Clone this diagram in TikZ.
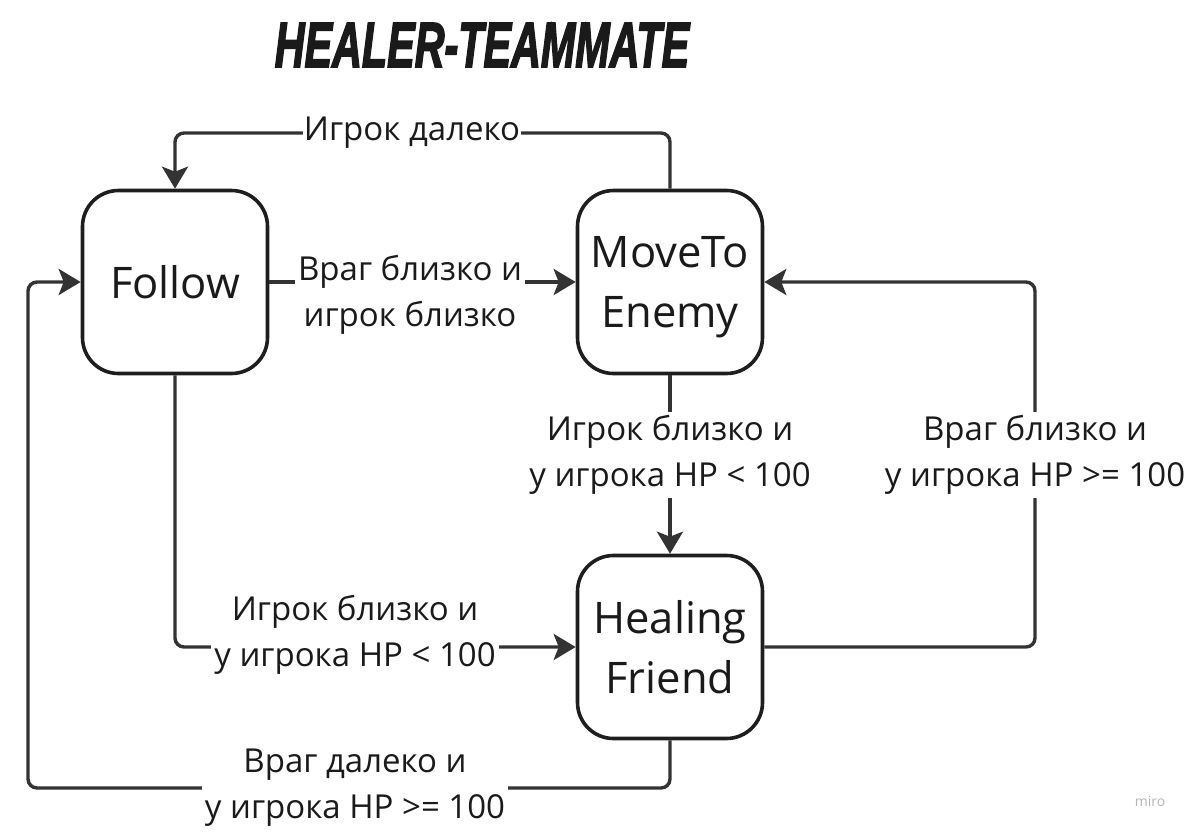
\documentclass[tikz,border=0pt]{standalone}
\usepackage{fontspec}
\setmainfont{Open Sans}
\newfontfamily\titlefont{Liberation Sans}[BoldItalicFeatures={FakeBold=3}]
\usetikzlibrary{arrows.meta}
\definecolor{conncol}{HTML}{333333}
\definecolor{boxcol}{HTML}{1E1E1E}
\definecolor{txtcol}{HTML}{1A1A1A}
\definecolor{logocol}{HTML}{B4B4B4}
\tikzset{
  statebox/.style={draw=boxcol, line width=3.6pt, rounded corners=36pt, fill=white,
    minimum width=185pt, minimum height=183pt, align=center, text=txtcol,
    font=\fontsize{43.5}{60}\selectfont, inner sep=0pt},
  conn/.style={draw=conncol, line width=3.4pt, rounded corners=9pt,
    -{Stealth[length=22pt,width=26pt,inset=5pt]}},
  lbl/.style={fill=white, text=txtcol, align=center, inner sep=3pt,
    font=\fontsize{33}{46}\selectfont},
}
\begin{document}
\begin{tikzpicture}[x=1pt,y=-1pt]
\useasboundingbox (0,0) rectangle (1195,836);
% title
\node[anchor=base, text=txtcol] (title) at (482,67)
  {\scalebox{0.70}[1.08]{\titlefont\bfseries\itshape\fontsize{59}{59}\selectfont HEALER-TEAMMATE}};
% states
\node[statebox] (follow) at (175,282) {Follow};
\node[statebox, text depth=0pt] (move) at (670,282) {MoveTo\\Enemy};
\node[statebox] (heal) at (670,647) {Healing\\Friend};
% label anchor points
\coordinate (p1) at (412,133);
\coordinate (p2) at (410,295);
\coordinate (p3) at (670,455);
\coordinate (p4) at (355,635);
\coordinate (p5) at (1035,455);
\coordinate (p6) at (355,788);
\coordinate (c7) at (28,788);
% connectors
\draw[conn] (move.north) |- (p1) -| (follow.north);
\draw[conn] (follow.east) -- (move.west);
\draw[conn] (move.south) -- (heal.north);
\draw[conn] (follow.south) |- (heal.west);
\draw[conn] (heal.east) -| (p5) |- (move.east);
\draw[conn] (heal.south) |- (p6) -- (c7) |- (follow.west);
% labels
\node[lbl, inner sep=1pt] (l1) at (p1) {Игрок далеко};
\node[lbl] (l2) at (p2) {Враг близко и\\игрок близко};
\node[lbl] (l3) at (p3) {Игрок близко и\\у игрока HP < 100};
\node[lbl] (l4) at (p4) {Игрок близко и\\у игрока HP < 100};
\node[lbl] (l5) at (p5) {Враг близко и\\у игрока HP >= 100};
\node[lbl] (l6) at (p6) {Враг далеко и\\у игрока HP >= 100};
% watermark
\node[text=logocol, font=\fontsize{14}{14}\selectfont] (logo) at (1150,801) {miro};
\end{tikzpicture}
\end{document}
